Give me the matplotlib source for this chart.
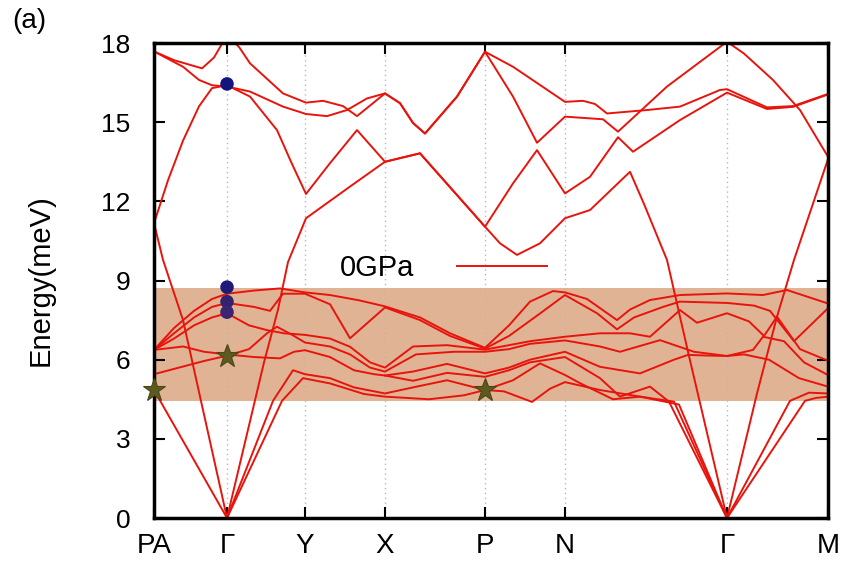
import matplotlib
matplotlib.use('Agg')
import matplotlib.pyplot as plt
from matplotlib.lines import Line2D

plt.rcParams['font.family'] = ['Liberation Sans', 'DejaVu Sans']

# ---------------- data ----------------
k_ticks = [0, 73, 151, 231, 331, 411, 573, 674]
k_labels = ['PA', 'Γ', 'Y', 'X', 'P', 'N', 'Γ', 'M']
e_ticks = [0, 3, 6, 9, 12, 15, 18]
band_window = (4.43, 8.72)
legend_label = '0GPa'

# upper branches (k, E)
upper_1 = [(0, 17.68), (20, 17.35), (48, 17.04), (60, 17.45), (73, 18.3), (85, 17.85), (96, 17.23),
           (129, 16.09), (152, 15.74), (169, 15.81), (189, 15.61), (203, 15.23), (231, 16.09),
           (246, 15.72), (259, 14.97), (271, 14.57), (303, 15.97), (331, 17.67), (359, 17.1),
           (386, 16.41), (411, 15.77), (429, 15.81), (441, 15.69), (453, 15.33), (493, 15.46),
           (526, 15.59), (566, 16.22), (573, 16.25), (613, 15.56), (639, 15.61), (674, 16.07)]
upper_2 = [(0, 17.68), (29, 17.1), (45, 16.6), (58, 16.4), (73, 16.35), (96, 16.16), (129, 15.59),
           (152, 15.31), (173, 15.23), (193, 15.46), (213, 15.9), (231, 16.09), (246, 15.72),
           (259, 14.97), (271, 14.57), (303, 15.97), (331, 17.67), (359, 15.97), (383, 14.22),
           (411, 15.21), (449, 15.11), (464, 14.64), (513, 16.35), (573, 18.05), (590, 17.6),
           (619, 16.6), (646, 15.46), (674, 13.69)]
upper_3 = [(0, 11.17), (14, 12.8), (29, 14.3), (45, 15.6), (58, 16.29), (73, 16.4), (96, 15.97),
           (123, 14.7), (137, 13.5), (152, 12.28), (175, 13.4), (203, 14.7), (231, 13.5),
           (266, 13.82), (331, 11.04), (346, 10.41), (363, 9.97), (386, 10.41), (411, 11.36),
           (436, 11.67), (476, 13.12), (490, 11.9), (513, 9.78), (534, 6.3), (573, 0.0)]
upper_4 = [(73, 0.0), (110, 5.9), (124, 7.9), (134, 9.7), (152, 11.36), (196, 12.56), (231, 13.5),
           (266, 13.82), (331, 11.04), (359, 12.68), (383, 13.94), (411, 12.3), (436, 12.93),
           (464, 14.43), (479, 13.88), (526, 15.08), (573, 16.12), (613, 15.5), (639, 15.58),
           (674, 16.05)]

# branches inside the shaded window
mid_1 = [(0, 6.37), (20, 7.2), (40, 7.85), (58, 8.3), (73, 8.5), (100, 8.62), (126, 8.7), (151, 8.55),
         (176, 8.45), (205, 8.25), (231, 8.02), (266, 7.6), (296, 7.0), (331, 6.45), (355, 7.3),
         (376, 8.2), (399, 8.6), (411, 8.55), (433, 8.3), (463, 7.5), (476, 7.9), (496, 8.26),
         (526, 8.45), (573, 8.51), (609, 8.45), (633, 8.64), (674, 8.13)]
mid_2 = [(0, 6.37), (20, 7.0), (40, 7.6), (58, 8.0), (73, 8.15), (100, 8.0), (116, 7.85), (129, 8.5),
         (151, 8.5), (176, 8.1), (196, 6.81), (231, 7.98), (266, 7.5), (296, 6.9), (331, 6.42),
         (355, 6.9), (386, 7.75), (411, 8.45), (443, 7.76), (463, 7.15), (480, 7.6), (509, 8.0),
         (526, 8.2), (573, 8.15), (600, 8.05), (616, 7.85), (640, 6.7), (674, 7.95)]
mid_3 = [(0, 6.37), (20, 6.8), (40, 7.3), (58, 7.6), (73, 7.76), (95, 7.3), (113, 7.12), (130, 7.0),
         (151, 6.94), (176, 6.8), (196, 6.49), (216, 5.9), (231, 5.7), (259, 6.5), (293, 6.55),
         (331, 6.38), (355, 6.55), (376, 6.7), (411, 6.87), (446, 7.0), (476, 7.0), (496, 6.87),
         (526, 7.88), (543, 7.4), (573, 7.76), (595, 7.45), (610, 6.9), (623, 7.63), (646, 6.4),
         (674, 5.96)]
mid_4 = [(0, 5.45), (30, 5.75), (50, 5.95), (73, 6.15), (95, 6.4), (113, 7.0), (123, 7.25), (140, 6.9),
         (151, 6.65), (176, 6.5), (196, 6.2), (216, 5.7), (231, 5.55), (262, 6.2), (300, 6.3),
         (331, 6.3), (355, 6.4), (376, 6.6), (411, 6.73), (446, 6.5), (466, 6.3), (506, 6.74),
         (540, 6.3), (573, 6.14), (599, 6.37), (609, 6.87), (630, 6.7), (650, 5.9), (674, 5.42)]
mid_5 = [(0, 6.37), (29, 6.5), (50, 6.3), (73, 6.2), (100, 6.1), (126, 6.05), (140, 6.3), (151, 6.36),
         (176, 6.1), (200, 5.6), (220, 5.45), (231, 5.4), (259, 5.55), (293, 5.84), (331, 5.48),
         (355, 5.7), (376, 6.0), (411, 6.3), (446, 5.73), (486, 5.48), (520, 6.0), (534, 6.18),
         (550, 6.16), (573, 6.14), (590, 6.2), (615, 6.0), (645, 5.3), (674, 4.98)]
mid_6 = [(231, 5.4), (259, 5.2), (293, 5.5), (331, 5.35), (355, 5.6), (376, 5.9), (411, 6.1),
         (446, 5.3), (466, 4.6), (496, 4.98), (515, 4.41), (573, 0.0)]

# acoustic-like branches
acoustic_1 = [(0, 4.85), (73, 0.0)]
acoustic_2 = [(0, 11.17), (9, 9.78), (29, 7.5), (73, 0.0)]
acoustic_3 = [(73, 0.0), (119, 4.44), (139, 5.6), (151, 5.45), (176, 5.3), (200, 4.95), (231, 4.72),
              (259, 4.95), (293, 5.22), (331, 4.85), (359, 5.22), (386, 5.86), (411, 5.42),
              (426, 5.11), (459, 4.5), (486, 4.6), (520, 4.41), (573, 0.0)]
acoustic_4 = [(73, 0.0), (128, 4.44), (149, 5.3), (176, 5.1), (210, 4.7), (231, 4.6), (275, 4.5),
              (310, 4.65), (331, 4.85), (350, 4.8), (378, 4.4), (396, 4.9), (411, 5.15), (446, 4.85),
              (486, 4.6), (525, 4.3), (573, 0.0)]
acoustic_5 = [(573, 0.0), (603, 4.72), (623, 7.63), (640, 9.78), (674, 13.6)]
acoustic_6 = [(573, 0.0), (636, 4.44), (655, 4.75), (674, 4.72)]
acoustic_7 = [(573, 0.0), (651, 4.44), (662, 4.55), (674, 4.6)]

curves = [upper_1, upper_2, upper_3, upper_4, mid_1, mid_2, mid_3, mid_4, mid_5, mid_6,
          acoustic_1, acoustic_2, acoustic_3, acoustic_4, acoustic_5, acoustic_6, acoustic_7]

circle_k = [73, 73, 73, 73]
circle_E = [16.45, 8.75, 8.2, 7.8]
circle_colors = ['#13157c', '#1e1a78', '#33226f', '#3a2570']
star_k = [0, 73, 331]
star_E = [4.85, 6.15, 4.85]

# ---------------- plot ----------------
fig = plt.figure(figsize=(8.43, 5.63), dpi=100)
ax = fig.add_axes([0.1827, 0.0799, 0.7995, 0.8437])

ax.axhspan(band_window[0], band_window[1], color='#e0b395', lw=0, zorder=0)
for kt in k_ticks[1:-1]:
    ax.axvline(kt, color='#b8b8b8', ls=(0, (1, 2.5)), lw=1.0, zorder=0.5)

red = '#e8140c'
for c in curves:
    ks = [p[0] for p in c]
    es = [p[1] for p in c]
    ax.plot(ks, es, color=red, lw=1.4, zorder=2, solid_joinstyle='round')

ax.scatter(circle_k, circle_E, s=95, c=circle_colors, zorder=4, linewidths=0)
ax.plot(star_k, star_E, ls='none', marker='*', ms=17, color='#5d5a1f', mec='#4b4716',
        mew=0.8, zorder=5, clip_on=False)

ax.set_xlim(0, 674)
ax.set_ylim(0, 18)
ax.set_xticks(k_ticks)
ax.set_xticklabels(k_labels)
ax.set_yticks(e_ticks)
ax.tick_params(axis='both', direction='in', length=8, width=1.5, top=True, right=True)
ax.tick_params(axis='y', pad=17, labelsize=19)
ax.tick_params(axis='x', pad=11, labelsize=20)
for s in ax.spines.values():
    s.set_linewidth(2.5)

ax.set_ylabel('Energy(meV)', fontsize=21)
ax.yaxis.set_label_coords(-0.147, 0.5)

handle = Line2D([], [], color=red, lw=1.4)
ax.legend([handle], [legend_label], loc='center', bbox_to_anchor=(0.43, 0.526),
          markerfirst=False, frameon=False, handlelength=3.1, handletextpad=1.45,
          fontsize=21)

fig.text(0.014, 0.962, '(a)', fontsize=20, va='center', ha='left')

fig.savefig('out.png', dpi=100)
